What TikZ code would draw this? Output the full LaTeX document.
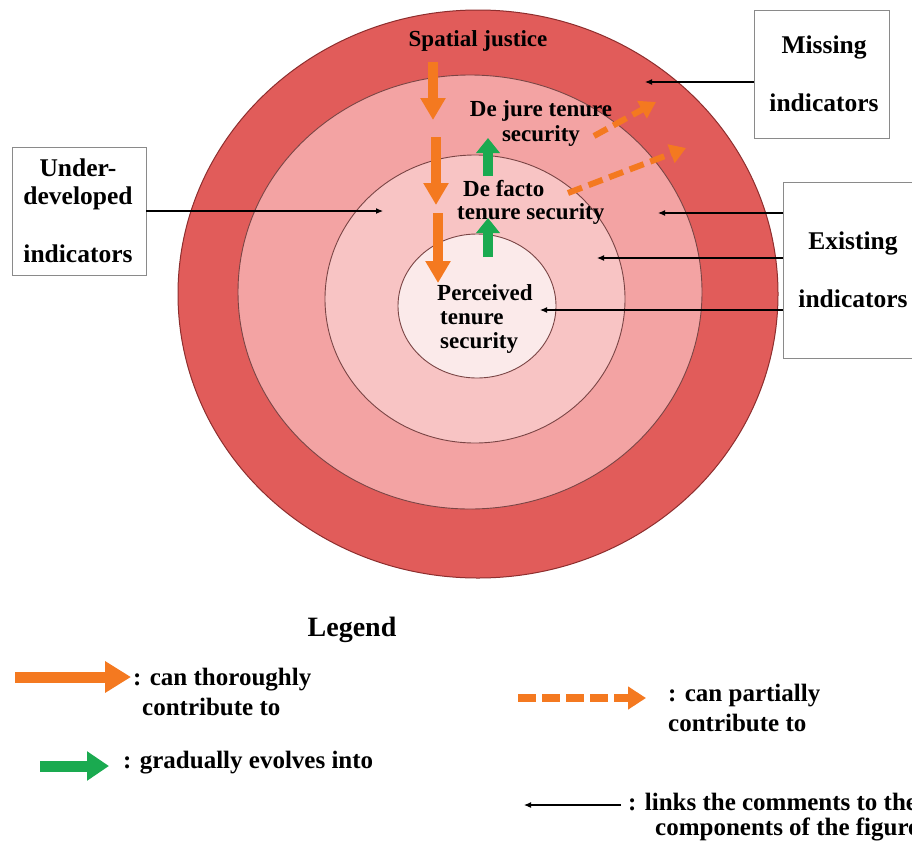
\documentclass[tikz,border=0pt]{standalone}
\usepackage{fontspec}
\setmainfont{Liberation Serif}
\usetikzlibrary{arrows.meta}
\definecolor{ringA}{HTML}{E15C5A}
\definecolor{ringB}{HTML}{F3A3A3}
\definecolor{ringC}{HTML}{F8C4C4}
\definecolor{ringD}{HTML}{FBEAEA}
\definecolor{ringline}{HTML}{7A4545}
\definecolor{outline}{HTML}{8E2E2E}
\definecolor{orng}{HTML}{F47920}
\definecolor{grn}{HTML}{1AAA50}
\definecolor{boxline}{HTML}{8A8A8A}
\tikzset{
  lbl/.style={font=\fontsize{23}{25}\selectfont\bfseries, inner sep=0pt},
  boxlbl/.style={font=\fontsize{25.5}{28}\selectfont\bfseries, inner sep=0pt},
  leglbl/.style={font=\fontsize{25}{28}\selectfont\bfseries, inner sep=0pt, anchor=west},
  combox/.style={draw=boxline, line width=0.8pt, fill=white, inner sep=0pt},
  leader/.style={draw=black, line width=1.1pt, -{Latex[length=7pt,width=6pt]}},
  thick orange/.style={draw=orng, line width=10pt, -{Triangle[length=22pt,width=24pt]}},
  thick green/.style={draw=grn, line width=10pt, -{Triangle[length=15pt,width=23pt]}},
  dash orange/.style={draw=orng, line width=6pt, dash pattern=on 15pt off 7pt, -{Triangle[length=16pt,width=19pt]}},
}
\begin{document}
\begin{tikzpicture}[x=1pt,y=-1pt]
\useasboundingbox (0,0) rectangle (912,841);
\fill[white] (0,0) rectangle (912,841);

% rings
\draw[fill=ringA, draw=outline, line width=1pt] (478,294) ellipse [x radius=300pt, y radius=284pt];
\draw[fill=ringB, draw=ringline, line width=0.9pt] (470,292) ellipse [x radius=232pt, y radius=217pt];
\draw[fill=ringC, draw=ringline, line width=0.9pt] (475,299) ellipse [x radius=150pt, y radius=144pt];
\draw[fill=ringD, draw=ringline, line width=0.9pt] (477,306) ellipse [x radius=79pt, y radius=72pt];

% ring labels
\node[lbl] (sj) at (478,41) {Spatial justice};
\node[lbl] (dj1) at (541,111) {De jure tenure};
\node[lbl] (dj2) at (541,136) {security};
\node[lbl, anchor=west] (df1) at (463,189) {De facto};
\node[lbl, anchor=west] (df2) at (457,214) {tenure security};
\node[lbl, anchor=west] (pt1) at (437,293) {Perceived};
\node[lbl, anchor=west] (pt2) at (440,318) {tenure};
\node[lbl, anchor=west] (pt3) at (440,343) {security};

% orange thick arrows
\coordinate (oa1) at (433,62);  \coordinate (ob1) at (433,120);
\coordinate (oa2) at (436,137); \coordinate (ob2) at (436,205);
\coordinate (oa3) at (438,213); \coordinate (ob3) at (438,283);
\draw[thick orange] (oa1) -- (ob1);
\draw[thick orange] (oa2) -- (ob2);
\draw[thick orange] (oa3) -- (ob3);

% green arrows
\coordinate (ga1) at (488,176); \coordinate (gb1) at (488,138);
\coordinate (ga2) at (488,257); \coordinate (gb2) at (488,218);
\draw[thick green] (ga1) -- (gb1);
\draw[thick green] (ga2) -- (gb2);

% dashed orange arrows
\coordinate (da1) at (594,136); \coordinate (db1) at (656,102);
\coordinate (da2) at (568,193); \coordinate (db2) at (686,148);
\draw[dash orange] (da1) -- (db1);
\draw[dash orange] (da2) -- (db2);

% comment boxes
\node[combox, minimum width=135pt, minimum height=128pt] (mis) at (821.5,74) {};
\node[boxlbl] (mis1) at (824,47) {Missing};
\node[boxlbl] (mis2) at (824,103) {indicators};

\node[combox, minimum width=145pt, minimum height=176pt] (ex) at (855.5,270) {};
\node[boxlbl] (ex1) at (853,243) {Existing};
\node[boxlbl] (ex2) at (853,299) {indicators};

\node[combox, minimum width=134pt, minimum height=128pt] (und) at (79,211) {};
\node[boxlbl] (und1) at (78,168) {Under-};
\node[boxlbl] (und2) at (78,198) {developed};
\node[boxlbl] (und3) at (78,254) {indicators};

% leader lines
\coordinate (lm) at (645,82);
\draw[leader] (mis.west |- lm) -- (lm);
\coordinate (le1) at (658,213);
\coordinate (le2) at (597,258);
\coordinate (le3) at (540,310);
\draw[leader] (ex.west |- le1) -- (le1);
\draw[leader] (ex.west |- le2) -- (le2);
\draw[leader] (ex.west |- le3) -- (le3);
\coordinate (lu) at (383,211);
\draw[leader] (und.east |- lu) -- (lu);

% legend
\node[font=\fontsize{28}{30}\selectfont\bfseries, inner sep=0pt] (leg) at (352,630) {Legend};

\coordinate (L1a) at (15,677); \coordinate (L1b) at (131,677);
\draw[draw=orng, line width=11pt, -{Triangle[length=26pt,width=30pt]}] (L1a) -- (L1b);
\node[leglbl] (t1a) at (133,680) {: can thoroughly};
\node[leglbl] (t1b) at (142,707) {contribute to};

\coordinate (L2a) at (518,698); \coordinate (L2b) at (646,698);
\draw[draw=orng, line width=8pt, dash pattern=on 18pt off 6pt, -{Triangle[length=18pt,width=22pt]}] (L2a) -- (L2b);
\node[leglbl] (t2a) at (668,696) {: can partially};
\node[leglbl] (t2b) at (668,723) {contribute to};

\coordinate (L3a) at (40,766); \coordinate (L3b) at (109,766);
\draw[draw=grn, line width=11pt, -{Triangle[length=22pt,width=28pt]}] (L3a) -- (L3b);
\node[leglbl] (t3) at (123,763) {: gradually evolves into};

\coordinate (L4a) at (621,805); \coordinate (L4b) at (524,805);
\draw[leader] (L4a) -- (L4b);
\node[leglbl] (t4a) at (628,802) {: links the comments to the};
\node[leglbl] (t4b) at (655,829) {components of the figure};
\end{tikzpicture}
\end{document}
